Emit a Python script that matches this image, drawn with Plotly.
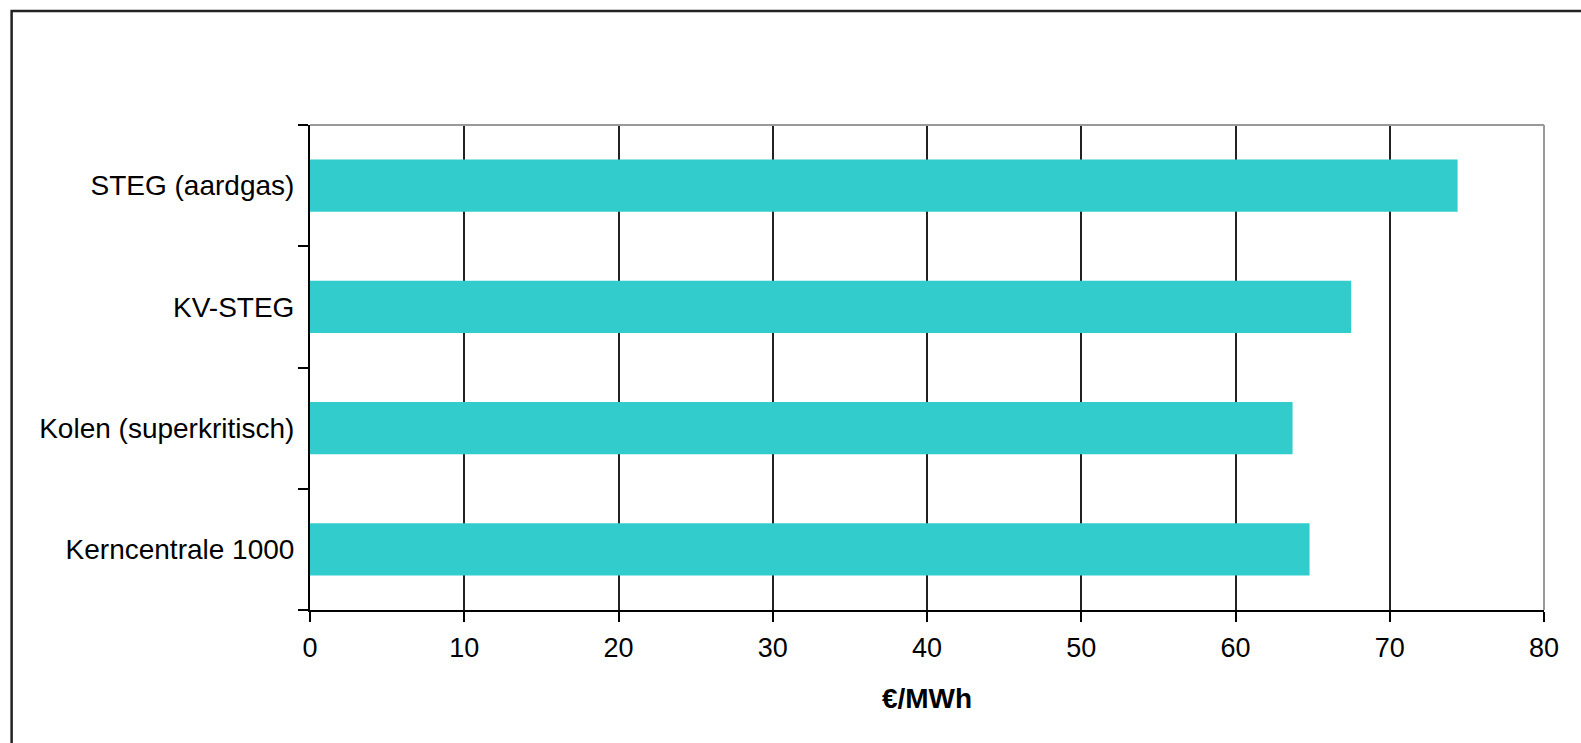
import plotly.graph_objects as go

# Electricity generation cost per technology (€/MWh)
technologies = ["Kerncentrale 1000", "Kolen (superkritisch)", "KV-STEG", "STEG (aardgas)"]
cost_eur_per_mwh = [64.8, 63.7, 67.5, 74.4]
x_ticks = [0, 10, 20, 30, 40, 50, 60, 70, 80]

W, H = 1581, 743
L, R, T, B = 309.5, 37, 125, 133
plot_w = W - L - R
plot_h = H - T - B


def px_to_paper_x(px):
    return (px - L) / plot_w


def px_to_paper_y(py):
    return (H - B - py) / plot_h


fig = go.Figure(
    go.Bar(
        x=cost_eur_per_mwh,
        y=technologies,
        orientation="h",
        marker=dict(color="#33CCCC", line=dict(width=0)),
    )
)

font_family = "Liberation Sans, Arial, sans-serif"

fig.update_layout(
    width=W,
    height=H,
    margin=dict(l=L, r=R, t=T, b=B),
    paper_bgcolor="white",
    plot_bgcolor="white",
    bargap=0.57,
    showlegend=False,
    font=dict(family=font_family, color="black", size=27),
)

fig.update_xaxes(
    range=[0, 80],
    tickvals=x_ticks,
    ticktext=[str(v) for v in x_ticks],
    showgrid=True,
    gridcolor="#222222",
    gridwidth=1.6,
    showline=True,
    linecolor="black",
    linewidth=2,
    ticks="outside",
    ticklen=10,
    tickwidth=2,
    tickcolor="black",
    tickfont=dict(size=27),
    ticklabelstandoff=3,
    title=dict(text="<b>€/MWh</b>", font=dict(size=28), standoff=26),
    zeroline=False,
)

fig.update_yaxes(
    categoryorder="array",
    categoryarray=technologies,
    tickson="boundaries",
    showgrid=False,
    showline=True,
    linecolor="black",
    linewidth=2,
    ticks="outside",
    ticklen=10,
    tickwidth=2,
    tickcolor="black",
    tickfont=dict(size=28),
    ticklabelstandoff=8,
)

# Light grey plot-area border on the top and right sides
fig.add_shape(type="line", xref="paper", yref="paper", x0=0, x1=1, y0=1, y1=1,
              line=dict(color="#999999", width=2))
fig.add_shape(type="line", xref="paper", yref="paper", x0=1, x1=1, y0=0, y1=1,
              line=dict(color="#999999", width=2))

# Outer frame around the chart
fig.add_shape(type="rect", xref="paper", yref="paper",
              x0=px_to_paper_x(11), x1=px_to_paper_x(W + 20),
              y0=px_to_paper_y(H + 20), y1=px_to_paper_y(11),
              line=dict(color="#222222", width=2.5), layer="below")

fig.write_html("out.html")
